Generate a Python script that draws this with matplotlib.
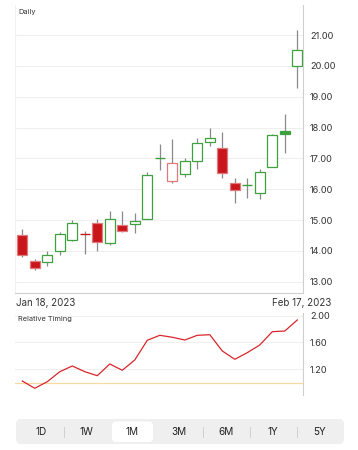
import matplotlib
matplotlib.use("Agg")
import matplotlib.pyplot as plt
from matplotlib.patches import FancyBboxPatch
import numpy as np

plt.rcParams['font.family'] = ['Inter', 'DejaVu Sans']

# ---------------- data ----------------
opens  = [14.51, 13.68, 13.63, 13.99, 14.34, 14.55, 14.89, 14.25, 14.84, 14.86, 15.02,
          17.02, 16.27, 16.49, 16.92, 17.52, 17.33, 16.19, 16.14, 15.87, 16.73, 17.89, 20.00]
closes = [13.88, 13.43, 13.87, 14.55, 14.91, 14.55, 14.30, 15.02, 14.64, 14.98, 16.46,
          17.02, 16.84, 16.92, 17.51, 17.65, 16.54, 15.97, 16.14, 16.57, 17.76, 17.79, 20.52]
highs  = [14.70, 13.75, 14.00, 14.60, 14.99, 14.64, 15.02, 15.29, 15.29, 15.22, 16.55,
          17.47, 17.63, 17.00, 17.67, 17.98, 17.87, 16.35, 16.35, 16.65, 17.79, 18.43, 21.17]
lows   = [13.81, 13.38, 13.51, 13.87, 14.32, 13.89, 14.00, 14.18, 14.62, 14.57, 15.02,
          16.62, 16.19, 16.39, 16.66, 17.41, 16.37, 15.54, 15.70, 15.67, 16.73, 17.18, 19.27]
rel_timing = [1.025, 0.916, 1.015, 1.164, 1.249, 1.164, 1.104, 1.279, 1.185, 1.339, 1.633,
              1.707, 1.678, 1.637, 1.707, 1.716, 1.473, 1.349, 1.448, 1.563, 1.761, 1.771, 1.936]
price_ticks = [13, 14, 15, 16, 17, 18, 19, 20, 21]
rt_ticks = [1.20, 1.60, 2.00]
rt_baseline = 1.0
date_labels = ["Jan 18, 2023", "Feb 17, 2023"]
periods = ["1D", "1W", "1M", "3M", "6M", "1Y", "5Y"]
selected_period = "1M"

# ---------------- figure ----------------
W, H = 358, 450
fig = plt.figure(figsize=(W / 100, H / 100), dpi=100)
fig.patch.set_facecolor("white")

def fx(px):
    return px / W

def fy(py):
    return 1 - py / H

AX_L, AX_R = 15, 303
ax = fig.add_axes([fx(AX_L), fy(293), fx(AX_R - AX_L), fy(5) - fy(293)])
ax2 = fig.add_axes([fx(AX_L), fy(395), fx(AX_R - AX_L), fy(313) - fy(395)])

n = len(opens)
x = np.arange(n)
GREEN = "#3da23d"
RED_FILL = "#c8161c"
RED_EDGE = "#e07a7a"
WICK = "#8a8a8a"
GRID = "#efefef"
SPINE = "#cfcfcf"

# wicks
ax.vlines(x, lows, highs, color=WICK, lw=0.9, zorder=2)
# bodies
for i in range(n):
    o, c = opens[i], closes[i]
    prev = closes[i - 1] if i > 0 else o
    up_vs_prev = c >= prev
    col = GREEN if up_vs_prev else RED_FILL
    if abs(c - o) < 1e-6:
        ax.hlines(c, x[i] - 0.4, x[i] + 0.4, color=(GREEN if up_vs_prev else RED_FILL), lw=1.0, zorder=3)
        continue
    filled = c < o
    bottom = min(o, c)
    height = abs(c - o)
    if filled:
        fc = col
        ec = RED_EDGE if not up_vs_prev else col
    else:
        fc = "white"
        ec = col if up_vs_prev else RED_EDGE
    ax.bar(x[i], height, bottom=bottom, width=0.8, facecolor=fc, edgecolor=ec,
           linewidth=0.9, zorder=3)

ax.set_xlim(-0.584, 22.456)
ax.set_ylim(12.633, 21.973)
ax.yaxis.tick_right()
ax.set_yticks(price_ticks)
ax.set_yticklabels([f"{t:.2f}" for t in price_ticks], fontsize=6.6, color="#333333")
ax.tick_params(axis="y", length=0, pad=5)
ax.set_xticks([])
ax.grid(axis="y", color=GRID, lw=0.8, zorder=0)
for s in ["top"]:
    ax.spines[s].set_visible(False)
ax.spines["left"].set_color("#f2f2f2")
ax.spines["right"].set_color(SPINE)
ax.spines["bottom"].set_color(SPINE)
for s in ax.spines.values():
    s.set_linewidth(0.8)
ax.text(0.012, 0.985, "Daily", transform=ax.transAxes, fontsize=5.3, color="#333333",
        va="top", ha="left")

fig.text(fx(16), fy(303), date_labels[0], fontsize=7.0, color="#333333", ha="left", va="center")
fig.text(fx(331), fy(303), date_labels[1], fontsize=7.0, color="#333333", ha="right", va="center")

# relative timing
ax2.plot(x, rel_timing, color="#d9262b", lw=0.9, zorder=3)
ax2.axhline(rt_baseline, color="#f8d9a0", lw=0.9, zorder=2)
ax2.set_xlim(-0.584, 22.456)
ax2.set_ylim(0.816, 2.04)
ax2.yaxis.tick_right()
ax2.set_yticks(rt_ticks)
ax2.set_yticklabels([f"{t:.2f}" for t in rt_ticks], fontsize=6.6, color="#333333")
ax2.tick_params(axis="y", length=0, pad=5)
ax2.set_xticks([])
ax2.grid(axis="y", color=GRID, lw=0.8, zorder=0)
for s in ["top", "left", "bottom"]:
    ax2.spines[s].set_visible(False)
ax2.spines["right"].set_color(SPINE)
ax2.spines["right"].set_linewidth(0.8)
ax2.text(0.012, 0.96, "Relative Timing", transform=ax2.transAxes, fontsize=5.3,
         color="#333333", va="top", ha="left")

# segmented control
bg = FancyBboxPatch((fx(16), fy(444)), fx(344 - 16), fy(419) - fy(444),
                    boxstyle="round,pad=0,rounding_size=0.012", transform=fig.transFigure,
                    facecolor="#efeff0", edgecolor="none", zorder=1)
fig.patches.append(bg)
centers = [41, 86, 132, 179, 226, 273, 320]
sel = periods.index(selected_period)
selbox = FancyBboxPatch((fx(112), fy(442)), fx(153 - 112), fy(421.5) - fy(442),
                        boxstyle="round,pad=0,rounding_size=0.01", transform=fig.transFigure,
                        facecolor="white", edgecolor="none", zorder=2)
fig.patches.append(selbox)
for i, (lab, cx) in enumerate(zip(periods, centers)):
    fig.text(fx(cx), fy(432), lab, fontsize=7.2, color="#222222", ha="center", va="center")
    if i < len(periods) - 1 and i != sel and i + 1 != sel:
        sx = (centers[i] + centers[i + 1]) / 2
        fig.lines.append(plt.Line2D([fx(sx), fx(sx)], [fy(437), fy(427)],
                                    transform=fig.transFigure, color="#d0d0d0", lw=0.7))

fig.savefig("out.png", dpi=100)
